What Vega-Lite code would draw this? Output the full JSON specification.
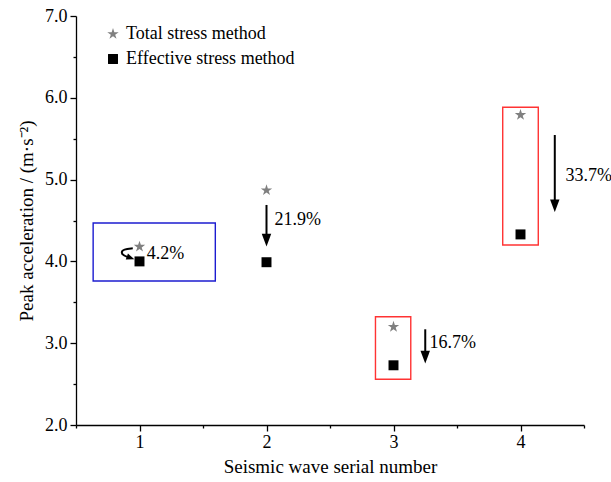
{
  "$schema": "https://vega.github.io/schema/vega-lite/v6.json",
  "width": 508,
  "height": 409,
  "autosize": {"type": "none"},
  "padding": {"left": 76, "top": 16, "right": 27, "bottom": 57},
  "config": {
    "view": {"stroke": null},
    "font": "Liberation Serif",
    "axis": {
      "labelFont": "Liberation Serif", "labelFontSize": 18, "labelColor": "#000",
      "titleFont": "Liberation Serif", "titleFontSize": 19, "titleFontWeight": "normal", "titleColor": "#000",
      "domainColor": "#000", "tickColor": "#000", "domainWidth": 1.3, "tickWidth": 1.3, "grid": false
    },
    "legend": {"labelFont": "Liberation Serif", "labelFontSize": 18, "labelColor": "#000"}
  },
  "datasets": {
    "pts": [
      {"wave": 1, "method": "Total stress method", "acc": 4.18},
      {"wave": 2, "method": "Total stress method", "acc": 4.87},
      {"wave": 3, "method": "Total stress method", "acc": 3.20},
      {"wave": 4, "method": "Total stress method", "acc": 5.79},
      {"wave": 1, "method": "Effective stress method", "acc": 4.00},
      {"wave": 2, "method": "Effective stress method", "acc": 3.99},
      {"wave": 3, "method": "Effective stress method", "acc": 2.73},
      {"wave": 4, "method": "Effective stress method", "acc": 4.33}
    ],
    "boxes": [
      {"wave": 1, "xa": 0.635, "xb": 1.597, "ya": 3.76, "yb": 4.47},
      {"wave": 3, "xa": 2.858, "xb": 3.136, "ya": 2.56, "yb": 3.324},
      {"wave": 4, "xa": 3.86, "xb": 4.14, "ya": 4.20, "yb": 5.884}
    ],
    "arrows": [
      {"wave": 2, "x": 2.0, "top": 4.69, "head": 4.26},
      {"wave": 3, "x": 3.25, "top": 3.17, "head": 2.83},
      {"wave": 4, "x": 4.27, "top": 5.545, "head": 4.68}
    ],
    "notes": [
      {"wave": 1, "x": 1.058, "y": 4.09, "note": "4.2%"},
      {"wave": 2, "x": 2.063, "y": 4.51, "note": "21.9%"},
      {"wave": 3, "x": 3.283, "y": 3.0, "note": "16.7%"},
      {"wave": 4, "x": 4.354, "y": 5.04, "note": "33.7%"}
    ],
    "curve": [
      {"i": 1, "x": 0.947, "y": 4.16},
      {"i": 2, "x": 0.874, "y": 4.148},
      {"i": 3, "x": 0.854, "y": 4.11},
      {"i": 4, "x": 0.874, "y": 4.072},
      {"i": 5, "x": 0.91, "y": 4.052}
    ],
    "curvehead": [{"x": 0.93, "y": 4.042}]
  },
  "layer": [
    {
      "data": {"name": "boxes"},
      "transform": [{"filter": "datum.wave == 1"}],
      "mark": {"type": "rect", "fill": null, "stroke": "#1c1cd0", "strokeWidth": 1.4},
      "encoding": {
        "x": {"field": "xa", "type": "quantitative", "scale": {"domain": [0.5, 4.5], "nice": false, "zero": false},
          "title": "Seismic wave serial number",
          "axis": {"values": [0.5, 1, 1.5, 2, 2.5, 3, 3.5, 4, 4.5],
            "labelExpr": "datum.value % 1 === 0 ? format(datum.value, 'd') : ''",
            "tickSize": {"condition": {"test": "datum.value % 1 === 0", "value": 6}, "value": 3},
            "labelPadding": 2, "titlePadding": 6}},
        "x2": {"field": "xb"},
        "y": {"field": "ya", "type": "quantitative", "scale": {"domain": [2, 7], "nice": false, "zero": false},
          "title": "Peak acceleration / (m·s⁻²)",
          "axis": {"values": [2, 2.5, 3, 3.5, 4, 4.5, 5, 5.5, 6, 6.5, 7],
            "labelExpr": "datum.value % 1 === 0 ? format(datum.value, '.1f') : ''",
            "tickSize": {"condition": {"test": "datum.value % 1 === 0", "value": 6}, "value": 3},
            "labelPadding": 3, "titlePadding": 8}},
        "y2": {"field": "yb"}
      }
    },
    {
      "data": {"name": "boxes"},
      "transform": [{"filter": "datum.wave != 1"}],
      "mark": {"type": "rect", "fill": null, "stroke": "#ff3333", "strokeWidth": 1.4},
      "encoding": {
        "x": {"field": "xa", "type": "quantitative"},
        "x2": {"field": "xb"},
        "y": {"field": "ya", "type": "quantitative"},
        "y2": {"field": "yb"}
      }
    },
    {
      "data": {"name": "arrows"},
      "mark": {"type": "rule", "color": "#000", "strokeWidth": 2},
      "encoding": {
        "x": {"field": "x", "type": "quantitative"},
        "y": {"field": "top", "type": "quantitative"},
        "y2": {"field": "head"}
      }
    },
    {
      "data": {"name": "arrows"},
      "mark": {"type": "point", "shape": "M-0.75,-1L0.75,-1L0,1Z", "filled": true, "color": "#000", "opacity": 1, "size": 160},
      "encoding": {
        "x": {"field": "x", "type": "quantitative"},
        "y": {"field": "head", "type": "quantitative"}
      }
    },
    {
      "data": {"name": "curve"},
      "mark": {"type": "line", "color": "#000", "strokeWidth": 2, "interpolate": "basis"},
      "encoding": {
        "x": {"field": "x", "type": "quantitative"},
        "y": {"field": "y", "type": "quantitative"},
        "order": {"field": "i", "type": "quantitative"}
      }
    },
    {
      "data": {"name": "curvehead"},
      "mark": {"type": "point", "shape": "M-1,-0.8L1,0L-1,0.8Z", "filled": true, "color": "#000", "opacity": 1, "size": 64, "angle": 20},
      "encoding": {
        "x": {"field": "x", "type": "quantitative"},
        "y": {"field": "y", "type": "quantitative"}
      }
    },
    {
      "data": {"name": "pts"},
      "mark": {"type": "point", "filled": true, "opacity": 1, "size": 144},
      "encoding": {
        "x": {"field": "wave", "type": "quantitative"},
        "y": {"field": "acc", "type": "quantitative"},
        "color": {"field": "method", "type": "nominal",
          "scale": {"domain": ["Total stress method", "Effective stress method"], "range": ["#808080", "#000000"]},
          "legend": {"title": null, "orient": "none", "legendX": 28, "legendY": 9, "padding": 0,
            "rowPadding": 7, "labelOffset": 4, "labelLimit": 400, "symbolSize": 144,
            "labelExpr": "datum.label == 'Effective stress method' ? '\u2004' + datum.label : datum.label"}},
        "shape": {"field": "method", "type": "nominal",
          "scale": {"domain": ["Total stress method", "Effective stress method"],
            "range": ["M0,-1L0.225,-0.309L0.951,-0.309L0.363,0.118L0.588,0.809L0,0.382L-0.588,0.809L-0.363,0.118L-0.951,-0.309L-0.225,-0.309Z", "M-0.83,-0.83L0.83,-0.83L0.83,0.83L-0.83,0.83Z"]}}
      }
    },
    {
      "data": {"name": "notes"},
      "mark": {"type": "text", "align": "left", "baseline": "middle", "font": "Liberation Serif", "fontSize": 18, "color": "#000"},
      "encoding": {
        "x": {"field": "x", "type": "quantitative"},
        "y": {"field": "y", "type": "quantitative"},
        "text": {"field": "note", "type": "nominal"}
      }
    }
  ]
}
